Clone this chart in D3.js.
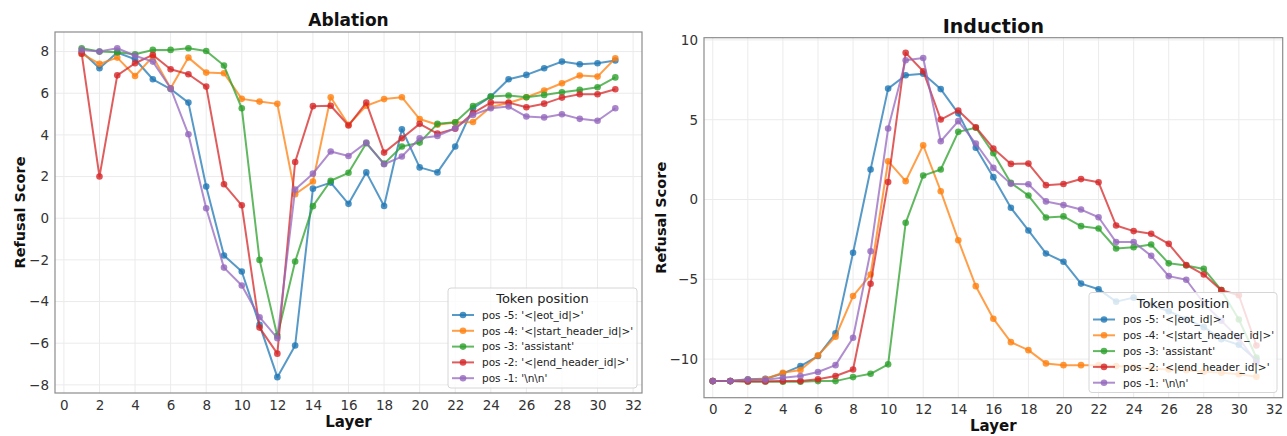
<!DOCTYPE html>
<html>
<head>
<meta charset="utf-8">
<script src="https://cdn.jsdelivr.net/npm/d3@7"></script>
<style>
  html, body { margin: 0; padding: 0; background: #fff; }
  svg { display: block; font-family: "DejaVu Sans", sans-serif; }
</style>
</head>
<body>
<svg id="chart" width="1287" height="436"></svg>
<script>
// Layers on the x axis
const layersAblation = d3.range(1, 32);
const layersInduction = d3.range(0, 32);

// Series labels (token positions) and colours
const seriesLabels = [
  "pos -5: '<|eot_id|>'",
  "pos -4: '<|start_header_id|>'",
  "pos -3: 'assistant'",
  "pos -2: '<|end_header_id|>'",
  "pos -1: '\\n\\n'"
];
const seriesColors = ["#1f77b4", "#ff7f0e", "#2ca02c", "#d62728", "#9467bd"];

// Ablation refusal scores, layers 1..31
const ablEot = [8.0, 7.2, 7.95, 7.63, 6.67, 6.2, 5.55, 1.52, -1.79, -2.56, -5.12, -7.63, -6.11, 1.42, 1.71, 0.69, 2.2, 0.59, 4.27, 2.44, 2.2, 3.44, 5.28, 5.84, 6.67, 6.88, 7.2, 7.52, 7.39, 7.44, 7.57];
const ablStartHeader = [7.9, 7.41, 7.71, 6.83, 7.76, 6.24, 7.71, 6.99, 6.96, 5.73, 5.6, 5.49, 1.15, 1.76, 5.81, 4.49, 5.4, 5.72, 5.81, 4.76, 4.49, 4.6, 4.62, 5.34, 5.53, 5.81, 6.13, 6.48, 6.85, 6.8, 7.68];
const ablAssistant = [8.16, 8.0, 7.97, 7.87, 8.08, 8.08, 8.16, 8.03, 7.33, 5.28, -2.0, -5.65, -2.08, 0.58, 1.8, 2.18, 3.6, 2.62, 3.44, 3.63, 4.53, 4.61, 5.39, 5.84, 5.89, 5.81, 5.92, 6.05, 6.16, 6.29, 6.76];
const ablEndHeader = [7.9, 2.0, 6.86, 7.44, 7.84, 7.15, 6.91, 6.32, 1.63, 0.62, -5.25, -6.5, 2.7, 5.38, 5.4, 4.45, 5.55, 3.15, 3.84, 4.53, 4.06, 4.3, 5.05, 5.55, 5.55, 5.33, 5.5, 5.79, 5.95, 5.95, 6.19];
const ablNewline = [8.08, 8.0, 8.16, 7.8, 7.52, 6.24, 4.03, 0.48, -2.37, -3.23, -4.75, -5.76, 1.38, 2.14, 3.2, 2.99, 3.63, 2.59, 2.96, 3.84, 3.95, 4.32, 4.96, 5.28, 5.36, 4.88, 4.84, 4.99, 4.77, 4.68, 5.28];

// Induction refusal scores, layers 0..31
const indEot = [-11.38, -11.38, -11.27, -11.23, -10.9, -10.44, -9.81, -8.39, -3.34, 1.88, 6.95, 7.79, 7.88, 6.92, 5.4, 3.24, 1.4, -0.52, -1.94, -3.38, -3.9, -5.27, -5.62, -6.4, -6.15, -6.6, -7.0, -7.5, -8.0, -8.75, -9.1, -10.05];
const indStartHeader = [-11.38, -11.38, -11.3, -11.25, -10.86, -10.69, -9.77, -8.6, -6.05, -4.7, 2.4, 1.15, 3.4, 0.52, -2.55, -5.43, -7.47, -8.94, -9.44, -10.27, -10.38, -10.38, -10.38, -10.44, -10.5, -10.6, -10.65, -10.7, -10.8, -10.85, -10.95, -11.1];
const indAssistant = [-11.38, -11.38, -11.4, -11.4, -11.42, -11.42, -11.38, -11.38, -11.13, -10.92, -10.33, -1.46, 1.5, 1.88, 4.24, 4.5, 2.9, 1.04, 0.25, -1.13, -1.06, -1.67, -1.82, -3.07, -2.99, -2.82, -4.0, -4.14, -4.35, -5.68, -7.52, -9.9];
const indEndHeader = [-11.38, -11.38, -11.4, -11.4, -11.38, -11.38, -11.27, -11.06, -10.65, -5.28, 1.09, 9.19, 8.04, 5.01, 5.58, 4.53, 3.2, 2.23, 2.25, 0.9, 0.97, 1.28, 1.08, -1.63, -1.98, -2.15, -2.78, -4.1, -4.7, -5.68, -6.0, -9.15];
const indNewline = [-11.38, -11.38, -11.3, -11.3, -11.17, -11.06, -10.81, -10.38, -8.66, -3.24, 4.45, 8.73, 8.87, 3.65, 4.91, 3.51, 1.98, 0.98, 0.96, -0.12, -0.35, -0.63, -1.11, -2.67, -2.66, -3.53, -4.8, -5.03, -6.5, -7.6, -8.7, -10.2];

// Tick values
const xTicks = d3.range(0, 33, 2);
const ablYTicks = [-8, -6, -4, -2, 0, 2, 4, 6, 8];
const indYTicks = [-10, -5, 0, 5, 10];

const svg = d3.select("#chart");
const fmt = v => (v < 0 ? "\u2212" + Math.abs(v) : String(v));

function drawPanel(opts) {
  const { left, top, right, bottom } = opts.box;
  const x = d3.scaleLinear().domain([-0.5, 32.5]).range([left, right]);
  const y = d3.scaleLinear().domain(opts.yDomain).range([bottom, top]);
  const g = svg.append("g");

  // grid
  g.append("g").selectAll("line").data(xTicks).join("line")
    .attr("x1", d => x(d)).attr("x2", d => x(d))
    .attr("y1", top).attr("y2", bottom)
    .attr("stroke", "#ebebeb").attr("stroke-width", 1);
  g.append("g").selectAll("line").data(opts.yTicks).join("line")
    .attr("y1", d => y(d)).attr("y2", d => y(d))
    .attr("x1", left).attr("x2", right)
    .attr("stroke", "#ebebeb").attr("stroke-width", 1);

  // axes (labels only, ticks hidden)
  const xAxis = d3.axisBottom(x).tickValues(xTicks).tickSize(0).tickPadding(opts.xPad).tickFormat(fmt);
  const yAxis = d3.axisLeft(y).tickValues(opts.yTicks).tickSize(0).tickPadding(6).tickFormat(fmt);
  const gx = g.append("g").attr("transform", `translate(0,${bottom})`).call(xAxis);
  const gy = g.append("g").attr("transform", `translate(${left},0)`).call(yAxis);
  [gx, gy].forEach(a => {
    a.select(".domain").remove();
    a.selectAll("text").attr("fill", "#333").attr("font-size", opts.tickSize)
      .attr("font-family", "DejaVu Sans");
  });

  // series
  const line = d3.line().x((d, i) => x(opts.layers[i])).y(d => y(d));
  opts.series.forEach((vals, si) => {
    const sg = g.append("g");
    sg.append("path").datum(vals).attr("d", line)
      .attr("fill", "none").attr("stroke", seriesColors[si])
      .attr("stroke-width", 2).attr("stroke-opacity", 0.75)
      .attr("stroke-linejoin", "round");
    sg.selectAll("circle").data(vals).join("circle")
      .attr("cx", (d, i) => x(opts.layers[i])).attr("cy", d => y(d))
      .attr("r", 3.3).attr("fill", seriesColors[si]).attr("fill-opacity", 0.8);
  });

  // frame
  g.append("rect").attr("x", left).attr("y", top)
    .attr("width", right - left).attr("height", bottom - top)
    .attr("fill", "none").attr("stroke", "#8c8c8c").attr("stroke-width", 1.2);

  // title and axis labels
  g.append("text").attr("x", (left + right) / 2).attr("y", opts.titleY)
    .attr("text-anchor", "middle").attr("font-weight", "bold")
    .attr("font-size", opts.titleSize).attr("fill", "#111").text(opts.title);
  g.append("text").attr("x", (left + right) / 2).attr("y", opts.xLabelY)
    .attr("text-anchor", "middle").attr("font-weight", "bold")
    .attr("font-size", 15).attr("fill", "#111").text("Layer");
  g.append("text")
    .attr("transform", `translate(${opts.yLabelX},${(top + bottom) / 2}) rotate(-90)`)
    .attr("text-anchor", "middle").attr("font-weight", "bold")
    .attr("font-size", 14.5).attr("fill", "#111").text("Refusal Score");

  // legend
  const L = opts.legend;
  const lg = g.append("g").attr("transform", `translate(${L.x},${L.y})`);
  lg.append("rect").attr("width", L.w).attr("height", L.h).attr("rx", 3)
    .attr("fill", "#fff").attr("fill-opacity", 0.8)
    .attr("stroke", "#d6d6d6").attr("stroke-width", 1);
  lg.append("text").attr("x", L.w / 2).attr("y", 15)
    .attr("text-anchor", "middle").attr("font-size", 13).attr("fill", "#222")
    .text("Token position");
  seriesLabels.forEach((lab, i) => {
    const ry = 27 + i * 15.8;
    lg.append("line").attr("x1", 4).attr("x2", 26).attr("y1", ry).attr("y2", ry)
      .attr("stroke", seriesColors[i]).attr("stroke-width", 2).attr("stroke-opacity", 0.75);
    lg.append("circle").attr("cx", 15).attr("cy", ry).attr("r", 3.3)
      .attr("fill", seriesColors[i]).attr("fill-opacity", 0.8);
    lg.append("text").attr("x", 34).attr("y", ry + 3.8)
      .attr("font-size", 10.5).attr("fill", "#222").text(lab);
  });
}

drawPanel({
  box: { left: 55, top: 32, right: 642, bottom: 393 },
  yDomain: [-8.39, 8.94],
  yTicks: ablYTicks,
  layers: layersAblation,
  series: [ablEot, ablStartHeader, ablAssistant, ablEndHeader, ablNewline],
  title: "Ablation", titleY: 26, titleSize: 17,
  xLabelY: 427, yLabelX: 25, xPad: 7, tickSize: 13.5,
  legend: { x: 448, y: 288, w: 189, h: 100 }
});

drawPanel({
  box: { left: 704, top: 37.7, right: 1282.7, bottom: 397.7 },
  yDomain: [-12.42, 10.14],
  yTicks: indYTicks,
  layers: layersInduction,
  series: [indEot, indStartHeader, indAssistant, indEndHeader, indNewline],
  title: "Induction", titleY: 33, titleSize: 19,
  xLabelY: 431, yLabelX: 666, xPad: 7, tickSize: 13.5,
  legend: { x: 1089, y: 292.5, w: 188, h: 100 }
});
</script>
</body>
</html>
